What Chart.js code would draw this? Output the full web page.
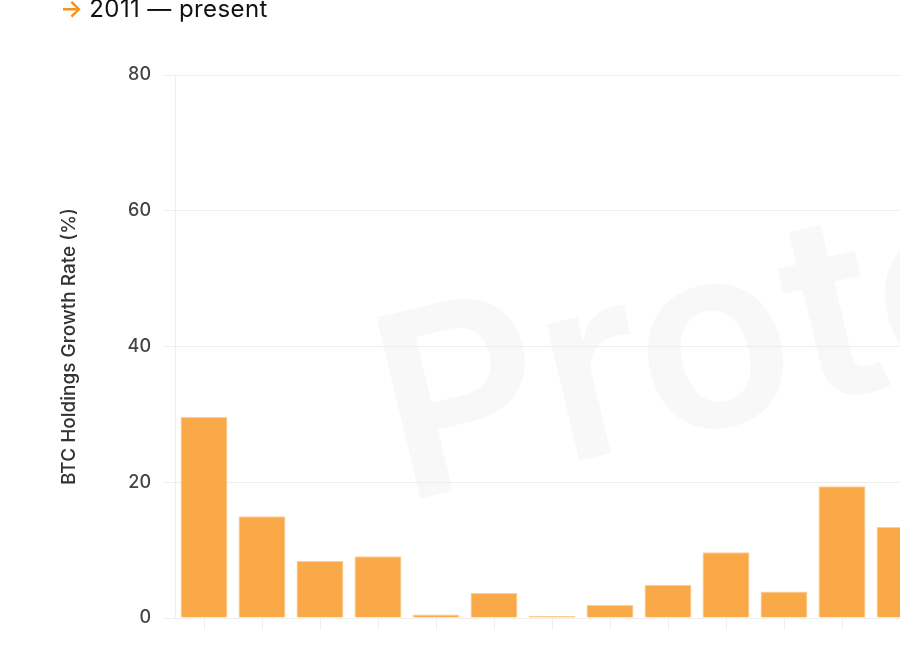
<!DOCTYPE html>
<html>
<head>
<meta charset="utf-8">
<script src="https://cdn.jsdelivr.net/npm/chart.js@4.4.1/dist/chart.umd.min.js"></script>
<style>
  body { margin: 0; background: #fff; overflow: hidden; }
  #wrap { position: relative; width: 1000px; height: 760px; }
  #title { position: absolute; left: 60px; top: -6px; font-family: Inter, sans-serif; font-size: 24px; letter-spacing: 0.4px; line-height: 30px; color: #111; white-space: nowrap; }
  #title .arrow { color: #f7931a; font-weight: 600; margin-right: 6px; }
  canvas { position: absolute; left: 0; top: 0; }
</style>
</head>
<body>
<div id="wrap">
  <canvas id="barChart" width="1000" height="760"></canvas>
  <div id="title"><span class="arrow">→</span>2011 — present</div>
</div>
<script>
var years = ['2011','2012','2013','2014','2015','2016','2017','2018','2019','2020','2021','2022','2023','2024'];
var growthRate = [29.6, 15.0, 8.4, 9.1, 0.5, 3.7, 0.3, 1.9, 4.9, 9.7, 3.9, 19.4, 13.4, 8.0];
var yTicks = [0, 20, 40, 60, 80];

var gridColor = '#eeeeee';

// faint logo behind everything
var watermark = {
    id: 'watermark',
    beforeDraw: function(chart) {
        var c = chart.ctx;
        c.save();
        c.translate(402, 503);
        c.rotate(-13.5 * Math.PI / 180);
        c.fillStyle = 'rgb(248,248,248)';
        c.font = '600 256px Inter';
        c.fillText('Protos', 0, 0);
        c.restore();
    }
};

const barChart = new Chart("barChart", {
    type: "bar",
    data: {
        labels: years,
        datasets: [{
            data: growthRate,
            backgroundColor: 'rgba(247,147,26,0.8)',
            borderColor: '#fbd09a',
            borderWidth: 1,
            barPercentage: 0.9,
            categoryPercentage: 0.9
        }]
    },
    options: {
        responsive: false,
        animation: false,
        layout: { padding: { left: 54, top: 75, right: 13, bottom: 0 } },
        plugins: { legend: { display: false }, tooltip: { enabled: false } },
        scales: {
            x: {
                afterFit: function(axis) { axis.height = 142; },
                grid: { offset: false, drawOnChartArea: false, drawTicks: true, tickLength: 12, color: gridColor },
                border: { display: true, color: gridColor },
                ticks: { maxRotation: 45, minRotation: 45, padding: 18, color: '#555', font: { family: 'Inter', size: 16 } }
            },
            y: {
                min: 0,
                max: 80,
                afterFit: function(axis) { axis.width = 121; },
                afterBuildTicks: function(axis) { axis.ticks = yTicks.map(function(v) { return { value: v }; }); },
                grid: { color: gridColor, tickLength: 12 },
                border: { display: true, color: gridColor },
                ticks: { padding: 12, color: '#444', font: { family: 'Inter', size: 18, weight: '500' } },
                title: { display: true, text: 'BTC Holdings Growth Rate (%)', color: '#333', font: { family: 'Inter', size: 19, weight: '500' } }
            }
        }
    },
    plugins: [watermark]
});
</script>
</body>
</html>
